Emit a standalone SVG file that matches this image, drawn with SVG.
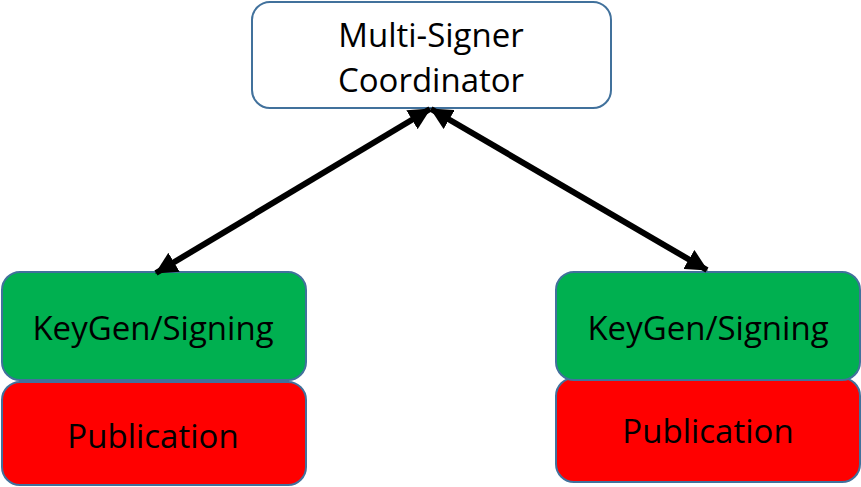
<svg xmlns="http://www.w3.org/2000/svg" width="861" height="487" viewBox="0 0 861 487">
<defs>
<style>
.box{stroke:#41719C;stroke-width:2}
.lbl{font-family:"Open Sans","Liberation Sans",sans-serif;font-size:33px;fill:#000;text-anchor:middle}
.conn{stroke:#000;stroke-width:6;fill:none}
</style>
<marker id="ah" viewBox="0 0 22 22" refX="21" refY="11" markerWidth="22" markerHeight="22" orient="auto-start-reverse" markerUnits="userSpaceOnUse">
<path d="M0,0 L22,11 L0,22 z" fill="#000"/>
</marker>
</defs>
<rect width="861" height="487" fill="#fff"/>
<g id="coordinator">
<rect class="box" x="252" y="2" width="359" height="106" rx="18" fill="#fff"/>
<text class="lbl" x="431" y="47">Multi-Signer</text>
<text class="lbl" x="431" y="92">Coordinator</text>
</g>
<g id="left-publication">
<rect class="box" x="2" y="382" width="304" height="103" rx="18" fill="#FF0000"/>
<text class="lbl" x="153" y="448">Publication</text>
</g>
<g id="left-keygen">
<rect class="box" x="2" y="272" width="304" height="108" rx="18" fill="#00B050"/>
<text class="lbl" x="153" y="340">KeyGen/Signing</text>
</g>
<g id="right-publication">
<rect class="box" x="556" y="378" width="304" height="104" rx="18" fill="#FF0000"/>
<text class="lbl" x="708" y="443">Publication</text>
</g>
<g id="right-keygen">
<rect class="box" x="556" y="272" width="304" height="108" rx="18" fill="#00B050"/>
<text class="lbl" x="708" y="340">KeyGen/Signing</text>
</g>
<g id="connectors">
<line class="conn" x1="430" y1="109" x2="156" y2="273" marker-start="url(#ah)" marker-end="url(#ah)"/>
<line class="conn" x1="431" y1="109" x2="707" y2="270" marker-start="url(#ah)" marker-end="url(#ah)"/>
</g>
</svg>
